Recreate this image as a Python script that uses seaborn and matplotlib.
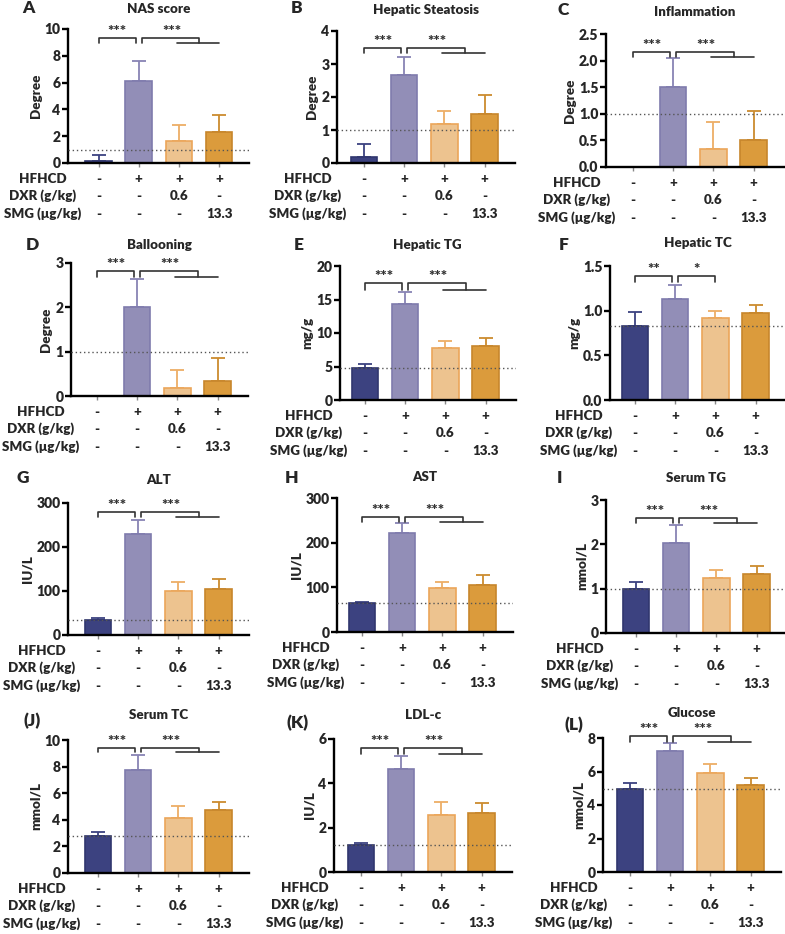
import matplotlib
matplotlib.use("Agg")
import matplotlib.pyplot as plt
import seaborn as sns
import pandas as pd
from matplotlib.transforms import blended_transform_factory

# ---------------- data ----------------
groups = ["Control", "HFHCD", "HFHCD+DXR", "HFHCD+SMG"]
row_labels = ["HFHCD", "DXR (g/kg)", "SMG (μg/kg)"]
hfhcd_row = ["-", "+", "+", "+"]
dxr_row = ["-", "-", "0.6", "-"]
smg_row = ["-", "-", "-", "13.3"]

panel_letters = ["A", "B", "C", "D", "E", "F", "G", "H", "I", "(J)", "(K)", "(L)"]
titles = ["NAS score", "Hepatic Steatosis", "Inflammation", "Ballooning", "Hepatic TG",
          "Hepatic TC", "ALT", "AST", "Serum TG", "Serum TC", "LDL-c", "Glucose"]
ylabels = ["Degree", "Degree", "Degree", "Degree", "mg/g", "mg/g",
           "IU/L", "IU/L", "mmol/L", "mmol/L", "IU/L", "mmol/L"]

nas_mean = [0.15, 6.15, 1.65, 2.3]
nas_sd = [0.45, 1.45, 1.2, 1.25]
steatosis_mean = [0.17, 2.67, 1.17, 1.5]
steatosis_sd = [0.41, 0.53, 0.41, 0.55]
inflam_mean = [0.0, 1.5, 0.33, 0.5]
inflam_sd = [0.0, 0.55, 0.52, 0.55]
balloon_mean = [0.0, 2.0, 0.17, 0.33]
balloon_sd = [0.0, 0.63, 0.41, 0.52]
htg_mean = [4.75, 14.4, 7.7, 8.05]
htg_sd = [0.55, 1.65, 1.15, 1.2]
htc_mean = [0.83, 1.13, 0.92, 0.97]
htc_sd = [0.15, 0.16, 0.08, 0.09]
alt_mean = [34, 229, 99, 104]
alt_sd = [4, 33, 21, 23]
ast_mean = [65, 222, 98, 106]
ast_sd = [3, 21, 15, 21]
stg_mean = [1.0, 2.02, 1.24, 1.33]
stg_sd = [0.15, 0.41, 0.18, 0.18]
stc_mean = [2.8, 7.75, 4.1, 4.7]
stc_sd = [0.32, 1.15, 0.92, 0.62]
ldl_mean = [1.2, 4.65, 2.55, 2.65]
ldl_sd = [0.13, 0.58, 0.6, 0.48]
glu_mean = [4.98, 7.2, 5.92, 5.2]
glu_sd = [0.34, 0.52, 0.53, 0.42]

ref_lines = [1.0, 1.0, 1.0, 1.0, 4.75, 0.83, 34, 65, 1.0, 2.8, 1.2, 4.98]
ytick_sets = [[0, 2, 4, 6, 8, 10], [0, 1, 2, 3, 4], [0.0, 0.5, 1.0, 1.5, 2.0, 2.5],
              [0, 1, 2, 3], [0, 5, 10, 15, 20], [0.0, 0.5, 1.0, 1.5],
              [0, 100, 200, 300], [0, 100, 200, 300], [0, 1, 2, 3],
              [0, 2, 4, 6, 8, 10], [0, 2, 4, 6], [0, 2, 4, 6, 8]]
sig_first = ["***"] * 5 + ["**"] + ["***"] * 6
sig_second = ["***"] * 5 + ["*"] + ["***"] * 6

means = [nas_mean, steatosis_mean, inflam_mean, balloon_mean, htg_mean, htc_mean,
         alt_mean, ast_mean, stg_mean, stc_mean, ldl_mean, glu_mean]
sds = [nas_sd, steatosis_sd, inflam_sd, balloon_sd, htg_sd, htc_sd,
       alt_sd, ast_sd, stg_sd, stc_sd, ldl_sd, glu_sd]

# ---------------- layout (pixels) ----------------
W, H = 785, 934
# axis_left, bar0_x, top, bottom
layout = [(68, 98.5, 29, 163), (337, 364, 31, 163), (606, 633, 34, 167),
          (71, 97, 263, 396), (340, 365, 266, 400), (610, 635, 266, 400),
          (68, 98, 503, 635), (337, 362, 498, 632), (606, 636, 500, 633),
          (68, 98, 740, 873), (334, 361, 739, 872), (603, 630, 738, 872)]
# bracket top / leg bottom in data units
brackets = [(9.3, 8.95), (3.48, 3.33), (2.16, 2.07), (2.82, 2.68), (17.5, 16.4),
            (1.39, 1.32), (280, 268), (257.5, 246), (2.59, 2.48), (9.4, 9.1),
            (5.6, 5.32), (8.1, 7.76)]
letter_pos = [(28, 8), (297, 8), (563, 10), (32, 245), (299, 245), (564, 245),
              (23, 478), (292, 478), (559, 478), (32, 721), (298, 723), (574, 725)]
title_y = [9, 10, 12, 245, 245, 243, 480, 477, 478, 715, 715, 713]
SP = 40.2

fills = ["#3C4280", "#928EB7", "#EDC38F", "#DB9B3C"]
edges = ["#30366E", "#7F7BAD", "#EBA65A", "#C7862C"]
errc = ["#3C4280", "#8884B4", "#EDAE66", "#CC8B2E"]

sns.set_theme(style="ticks")
plt.rcParams["font.family"] = ["Lato", "DejaVu Sans"]
plt.rcParams["font.weight"] = "heavy"
FS = 9.6
WT = "heavy"

fig = plt.figure(figsize=(W / 100, H / 100), dpi=100)


def ftxt(x, y, s, **kw):
    fig.text(x / W, 1 - y / H, s, **kw)


for i in range(12):
    axl, b0, top, bot = layout[i]
    right = b0 + 3 * SP + 30
    ax = fig.add_axes([axl / W, 1 - bot / H, (right - axl) / W, (bot - top) / H])
    df = pd.DataFrame({"group": groups, "value": means[i]})
    sns.barplot(data=df, x="group", y="value", hue="group", order=groups,
                hue_order=groups, palette=fills, dodge=False, width=0.66,
                saturation=1, errorbar=None, legend=False, ax=ax, zorder=2)
    for p, ec in zip(ax.patches, edges):
        p.set_edgecolor(ec)
        p.set_linewidth(1.2)
    for j in range(4):
        if sds[i][j] > 0:
            ax.errorbar(j, means[i][j], yerr=[[0], [sds[i][j]]], fmt="none",
                        ecolor=errc[j], elinewidth=1.3, capsize=5, capthick=1.3,
                        zorder=1.5)
    yt = ytick_sets[i]
    ax.set_ylim(yt[0], yt[-1])
    ax.set_xlim(-(b0 - axl) / SP, 3 + 30 / SP)
    ax.set_yticks(yt)
    if isinstance(yt[1], float):
        ax.set_yticklabels([f"{v:.1f}" for v in yt])
    ax.set_xticks(range(4))
    ax.set_xticklabels([])
    ax.set_xlabel("")
    ax.set_ylabel(ylabels[i], fontsize=FS, fontweight=WT, labelpad=2)
    ax.axhline(ref_lines[i], ls=(0, (1, 2)), color="#555555", lw=1.0, zorder=3)
    for s in ["top", "right"]:
        ax.spines[s].set_visible(False)
    for s in ["left", "bottom"]:
        ax.spines[s].set_linewidth(1.7)
        ax.spines[s].set_color("black")
    ax.tick_params(axis="y", width=1.7, length=4, labelsize=FS + 0.4, pad=1.5,
                   color="black")
    ax.tick_params(axis="x", width=1.0, length=3, color="#888888")
    for lab in ax.get_yticklabels():
        lab.set_fontweight(WT)

    # significance brackets
    ht, hb = brackets[i]
    kw = dict(color="#333333", lw=1.2, clip_on=False, zorder=4)
    ax.plot([0, 0, 0.93, 0.93], [hb, ht, ht, hb], **kw)
    tkw = dict(ha="center", va="bottom", fontsize=FS + 1, fontweight=WT,
               color="#333333", clip_on=False)
    ax.text(0.465, ht, sig_first[i], **tkw)
    if sig_second[i] == "*":
        ax.plot([1.07, 1.07, 2.0, 2.0], [hb, ht, ht, hb], **kw)
        ax.text(1.53, ht, sig_second[i], **tkw)
    else:
        ax.plot([1.07, 1.07, 2.5, 2.5], [hb, ht, ht, hb], **kw)
        ax.plot([1.95, 3.0], [hb, hb], **kw)
        ax.text(1.82, ht, sig_second[i], **tkw)

    # treatment table
    tr = blended_transform_factory(ax.transData, fig.transFigure)
    for r, (row, off) in enumerate(zip([hfhcd_row, dxr_row, smg_row], [16, 33, 51])):
        for j in range(4):
            ax.text(j, 1 - (bot + off) / H, row[j], transform=tr, ha="center",
                    va="center", fontsize=FS, fontweight=WT, clip_on=False)
        ftxt(b0 - 56, bot + off, row_labels[r], ha="center", va="center",
             fontsize=FS, fontweight=WT)

    # titles and letters
    ftxt((axl + right) / 2, title_y[i], titles[i], ha="center", va="center",
         fontsize=FS, fontweight=WT)
    lx, ly = letter_pos[i]
    ftxt(lx, ly, panel_letters[i], ha="center", va="center", fontsize=12.5,
         fontweight=WT)

fig.savefig("out.png", dpi=100)
